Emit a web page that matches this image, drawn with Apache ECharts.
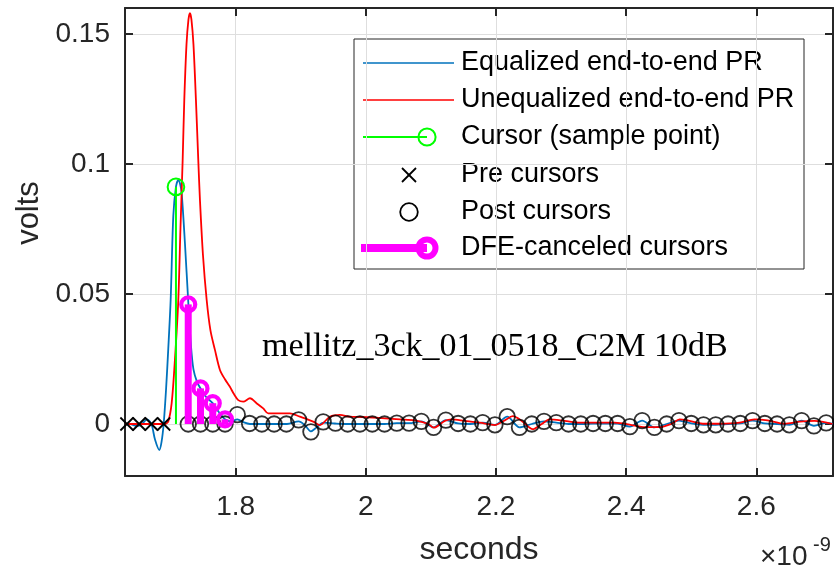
<!DOCTYPE html>
<html><head><meta charset="utf-8">
<script src="https://cdn.jsdelivr.net/npm/echarts@6/dist/echarts.min.js"></script>
<style>html,body{margin:0;padding:0;background:#fff}#c{width:834px;height:571px}</style>
</head><body><div id="c"></div>
<script>
// Time values are in ns (axis shows "x10^-9" seconds)
const cursorTime = 1.7083;
const unitInterval = 0.018851;
const cursorValue = 0.0912;
const preCursorValues = [0, 0, 0, 0];                 // k = -1 .. -4
const dfeCanceledValues = [0.046, 0.0137, 0.0080, 0.0018]; // k = 1 .. 4
const postCursorValues = [
  0, 0, 0, 0, 0.0036, 0.0002, 0, 0, 0, 0.0016,
  -0.0030, 0.0008, 0.0003, 0, 0, 0, 0, 0.0003, 0.0003, 0.0010,
  -0.0013, 0.0015, 0.0002, 0, 0.0005, -0.0003, 0.0028, -0.0013, 0, 0.0010,
  0.0005, 0, 0, 0.0002, 0.0002, 0.0002, -0.0010, 0.0013, -0.0013, 0,
  0.0013, 0.0002, -0.0003, -0.0003, 0, 0.0002, 0.0013, 0.0002, 0, -0.0003,
  0.0013, -0.0007, 0.0004
];
const equalizedPR = [
  [1.6300,0],[1.6377,0],[1.6484,-0.0008],[1.6561,0],[1.6638,0.0018],[1.6706,0],
  [1.6761,-0.006],[1.6827,-0.010],[1.6861,-0.007],[1.6894,0],[1.6930,0.013],
  [1.6965,0.029],[1.7002,0.048],[1.7042,0.080],[1.7083,0.0912],[1.7119,0.0938],
  [1.7145,0.0925],[1.7171,0.0887],[1.7221,0.0695],[1.7272,0.047],[1.7314,0.030],
  [1.7352,0.021],[1.7406,0.0162],[1.7460,0.0137],[1.7544,0.0105],[1.7647,0.0080],
  [1.7744,0.0045],[1.7836,0.0018],[1.7928,0.0010],[1.8026,0.0018],[1.8127,0.0006],
  [1.8220,0],[1.8404,0],[1.8603,0],[1.8788,0],[1.8969,0.0010],[1.9064,-0.0005],
  [1.9156,-0.0028],[1.9248,-0.0012],[1.9347,0.0005],[1.9525,0.0002]
];
const equalizedTailEnd = [2.7179, 0];
const unequalizedPR = [
  [1.6300,0],[1.6914,0],[1.6965,0.001],[1.7017,0.008],[1.7068,0.025],[1.7119,0.0477],
  [1.7152,0.075],[1.7186,0.1015],[1.7211,0.1246],[1.7245,0.146],[1.7275,0.1555],
  [1.7298,0.158],[1.7321,0.1555],[1.7352,0.146],[1.7390,0.1246],[1.7426,0.1015],
  [1.7452,0.086],[1.7498,0.065],[1.7555,0.0477],[1.7613,0.036],[1.7682,0.0285],
  [1.7759,0.0208],[1.7836,0.0172],[1.7912,0.0143],[1.7974,0.0115],[1.8040,0.0092],
  [1.8117,0.0086],[1.8220,0.0099],[1.8322,0.008],[1.8424,0.006],[1.8501,0.0041],
  [1.8680,0.0041],[1.8834,0.0041],[1.8987,0.0028],[1.9192,0.0009],[1.9294,-0.0004],
  [1.9448,0.0028],[1.9602,0.0035],[1.9755,0.0028],[1.9939,0.0027],[2.0108,0.0025],
  [2.0293,0.0022],[2.0523,0.0018],[2.0753,0.0014],[2.0953,0.0001],[2.1045,-0.0014],
  [2.1214,0.0012],[2.1321,0.0018],[2.1521,0.0012],[2.1751,0.0005],[2.1982,-0.0004],
  [2.2135,0.0014],[2.2258,0.003],[2.2396,0.0012],[2.2565,-0.002],[2.2703,0],
  [2.2826,0.0018],[2.3056,0.0012],[2.3287,0.0005],[2.3517,0.0005],[2.3824,0.0005],
  [2.4085,-0.0004],[2.4285,-0.0012],[2.4515,-0.0012],[2.4699,0.0001],[2.4822,0.0018],
  [2.4976,0.0012],[2.5206,0.0001],[2.5436,0.0001],[2.5744,0.0005],[2.5974,0.0018],
  [2.6174,0.0014],[2.6435,0.0001],[2.6665,0.0009],[2.6895,0.0012],[2.7172,0]
];
const xTickValues = [1.8, 2.0, 2.2, 2.4, 2.6];
const yTickValues = [0, 0.05, 0.1, 0.15];
const xRange = [1.6300, 2.7179];
const yRange = [-0.02, 0.16];

const legendLabels = ['Equalized end-to-end PR','Unequalized end-to-end PR','Cursor (sample point)','Pre cursors','Post cursors','DFE-canceled cursors'];
const annotationText = 'mellitz_3ck_01_0518_C2M 10dB';

// ---- build series data from the arrays ----
const preData = preCursorValues.map((v, i) => [cursorTime - (i + 1) * unitInterval, v]);
const postData = postCursorValues.map((v, i) => [cursorTime + (i + 1) * unitInterval, v]);
const dfeData = dfeCanceledValues.map((v, i) => [cursorTime + (i + 1) * unitInterval, v]);
const blueData = equalizedPR.slice();
postData.forEach((p, i) => { if (i >= 13) blueData.push(p); });
blueData.push(equalizedTailEnd);

const SANS = '"Liberation Sans", Arial, Helvetica, sans-serif';
const AX = '#262626';
const chart = echarts.init(document.getElementById('c'), null, {renderer: 'canvas'});

function stem(color, lw, r, clw) {
  return function (params, api) {
    const t = api.value(0), v = api.value(1);
    const p0 = api.coord([t, 0]), p1 = api.coord([t, v]);
    return {type: 'group', children: [
      {type: 'line', shape: {x1: p0[0], y1: p0[1], x2: p1[0], y2: p1[1]}, style: {stroke: color, lineWidth: lw}},
      {type: 'circle', shape: {cx: p1[0], cy: p1[1], r: r}, style: {fill: 'none', stroke: color, lineWidth: clw}}
    ]};
  };
}
function cross(size, lw) {
  return function (params, api) {
    const p = api.coord([api.value(0), api.value(1)]);
    const h = size / 2;
    return {type: 'group', children: [
      {type: 'line', shape: {x1: p[0] - h, y1: p[1] - h, x2: p[0] + h, y2: p[1] + h}, style: {stroke: '#000', lineWidth: lw}},
      {type: 'line', shape: {x1: p[0] - h, y1: p[1] + h, x2: p[0] + h, y2: p[1] - h}, style: {stroke: '#000', lineWidth: lw}}
    ]};
  };
}

const xBase = {
  type: 'value', min: xRange[0], max: xRange[1],
  axisLine: {show: true, onZero: false, lineStyle: {color: AX, width: 2}},
  axisTick: {show: true, inside: true, length: 8, customValues: xTickValues, lineStyle: {color: AX, width: 2}},
};
const yBase = {
  type: 'value', min: yRange[0], max: yRange[1],
  axisLine: {show: true, onZero: false, lineStyle: {color: AX, width: 2}},
  axisTick: {show: true, inside: true, length: 8, customValues: yTickValues, lineStyle: {color: AX, width: 2}},
};

// legend graphic
const LX = 354, LY = 39, LW = 450, LH = 230;
const rowY = [63, 100, 137, 175, 212, 248];
const legendEls = [
  {type: 'rect', shape: {x: LX, y: LY, width: LW, height: LH}, style: {fill: '#fff', stroke: AX, lineWidth: 1}},
  {type: 'line', shape: {x1: 363, y1: rowY[0], x2: 454, y2: rowY[0]}, style: {stroke: '#0072BD', lineWidth: 1.5}},
  {type: 'line', shape: {x1: 363, y1: rowY[1], x2: 454, y2: rowY[1]}, style: {stroke: '#FF0000', lineWidth: 1.5}},
  {type: 'line', shape: {x1: 363, y1: rowY[2], x2: 427, y2: rowY[2]}, style: {stroke: '#00FF00', lineWidth: 2}},
  {type: 'circle', shape: {cx: 427, cy: rowY[2], r: 8.6}, style: {fill: 'none', stroke: '#00FF00', lineWidth: 2}},
  {type: 'line', shape: {x1: 402, y1: rowY[3] - 7, x2: 416, y2: rowY[3] + 7}, style: {stroke: '#000', lineWidth: 1.8}},
  {type: 'line', shape: {x1: 402, y1: rowY[3] + 7, x2: 416, y2: rowY[3] - 7}, style: {stroke: '#000', lineWidth: 1.8}},
  {type: 'circle', shape: {cx: 409, cy: rowY[4], r: 8.8}, style: {fill: 'none', stroke: '#000', lineWidth: 1.8}},
  {type: 'line', shape: {x1: 361, y1: rowY[5], x2: 427, y2: rowY[5]}, style: {stroke: '#FF00FF', lineWidth: 8}},
  {type: 'circle', shape: {cx: 427, cy: rowY[5], r: 8.5}, style: {fill: 'none', stroke: '#FF00FF', lineWidth: 6}}
];
legendLabels.forEach((s, i) => legendEls.push({
  type: 'text', x: 461, y: rowY[i],
  style: {text: s, fontFamily: SANS, fontSize: 27, fill: '#000', align: 'left', verticalAlign: 'middle'}
}));

const option = {
  animation: false,
  backgroundColor: '#fff',
  grid: {left: 125, right: 1, top: 8, bottom: 95, containLabel: false},
  xAxis: [
    Object.assign({}, xBase, {
      position: 'bottom',
      name: 'seconds', nameLocation: 'middle', nameGap: 58,
      nameTextStyle: {color: AX, fontSize: 32, fontFamily: SANS},
      axisLabel: {show: true, customValues: xTickValues, margin: 17, color: AX, fontSize: 28, fontFamily: SANS},
      splitLine: {show: true, lineStyle: {color: '#dedede', width: 1}}
    }),
    Object.assign({}, xBase, {position: 'top', axisLabel: {show: false}, splitLine: {show: false}})
  ],
  yAxis: [
    Object.assign({}, yBase, {
      position: 'left',
      name: 'volts', nameLocation: 'middle', nameGap: 72, nameRotate: 90,
      nameTextStyle: {color: AX, fontSize: 31, fontFamily: SANS, padding: [0, 0, 0, 58]},
      axisLabel: {show: true, customValues: yTickValues, margin: 15, color: AX, fontSize: 28, fontFamily: SANS},
      splitLine: {show: true, lineStyle: {color: '#dedede', width: 1}}
    }),
    Object.assign({}, yBase, {position: 'right', axisLabel: {show: false}, splitLine: {show: false}})
  ],
  series: [
    {name: legendLabels[0], type: 'line', data: blueData, symbol: 'none', smooth: 0.3,
      lineStyle: {color: '#0072BD', width: 1.8}, z: 2},
    {name: legendLabels[1], type: 'line', data: unequalizedPR, symbol: 'none', smooth: 0.3,
      lineStyle: {color: '#FF0000', width: 1.8}, z: 3},
    {name: legendLabels[2], type: 'custom', data: [[cursorTime, cursorValue]], renderItem: stem('#00FF00', 2, 8.3, 2), z: 4},
    {name: legendLabels[3], type: 'custom', data: preData, renderItem: cross(13, 1.8), z: 5},
    {name: legendLabels[4], type: 'scatter', data: postData, symbol: 'circle', symbolSize: 15.5,
      itemStyle: {color: 'rgba(0,0,0,0)', borderColor: '#000', borderWidth: 1.8}, z: 6},
    {name: legendLabels[5], type: 'custom', data: dfeData, renderItem: stem('#FF00FF', 7, 7, 4.2), z: 7}
  ],
  graphic: [
    {type: 'text', x: 262, y: 347, z: 50,
      style: {text: annotationText, fontFamily: '"Liberation Serif", "Times New Roman", serif', fontSize: 34, fill: '#000', verticalAlign: 'middle'}},
    {type: 'text', x: 760, y: 557, z: 50,
      style: {text: '×10', fontFamily: SANS, fontSize: 28, fill: AX, verticalAlign: 'middle'}},
    {type: 'text', x: 813, y: 545, z: 50,
      style: {text: '-9', fontFamily: SANS, fontSize: 20, fill: AX, verticalAlign: 'middle'}},
    {type: 'group', z: 100, children: legendEls}
  ]
};
chart.setOption(option);
</script></body></html>
